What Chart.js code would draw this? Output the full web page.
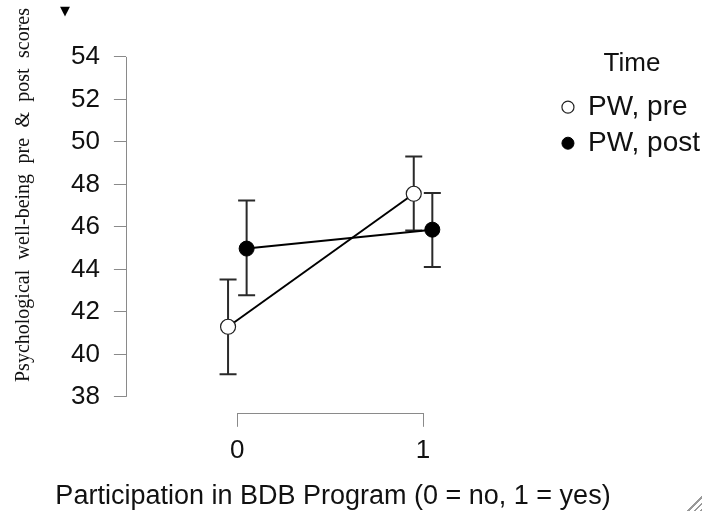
<!DOCTYPE html>
<html><head><meta charset="utf-8">
<script src="https://cdn.jsdelivr.net/npm/chart.js@4"></script>
<style>
html,body{margin:0;padding:0;background:#fff;}
#wrap{position:relative;width:720px;height:517px;}
canvas{display:block;}
#tri{position:absolute;left:60px;top:3px;font:13px 'DejaVu Sans';color:#000;}
#grip{position:absolute;left:686px;top:495px;width:16px;height:16px;background:repeating-linear-gradient(135deg,transparent 0 3px,#999 3px 4.5px);clip-path:polygon(100% 0,100% 100%,0 100%);}
</style></head>
<body><div id="wrap"><canvas id="c" width="720" height="517"></canvas><div id="tri">▼</div><div id="grip"></div></div>
<script>
const categories = [0, 1];
const seriesNames = ['PW, pre', 'PW, post'];
const preMean = [41.30, 47.56];
const preLow  = [39.06, 45.83];
const preHigh = [43.52, 49.31];
const postMean = [44.98, 45.87];
const postLow  = [42.78, 44.11];
const postHigh = [47.24, 47.60];
const yTicks = [38, 40, 42, 44, 46, 48, 50, 52, 54];
const xTitle = 'Participation in BDB Program (0 = no, 1 = yes)';
const yTitle = 'Psychological well-being pre & post scores';
const legendTitle = 'Time';

const dodge = [-0.05, 0.05];
const sans = "'Liberation Sans', Arial, sans-serif";
const axisGray = '#8a8a8a';

function pts(means, d) { return categories.map((c, i) => ({x: c + d, y: means[i]})); }

const errPlugin = {
  id: 'err',
  beforeDatasetsDraw(chart) {
    const {ctx, scales: {x, y}} = chart;
    const sets = [[preLow, preHigh, dodge[0]], [postLow, postHigh, dodge[1]]];
    ctx.save();
    ctx.strokeStyle = '#2a2a2a';
    ctx.lineWidth = 2;
    sets.forEach(([lo, hi, d]) => {
      categories.forEach((c, i) => {
        const px = x.getPixelForValue(c + d);
        const y1 = y.getPixelForValue(lo[i]);
        const y2 = y.getPixelForValue(hi[i]);
        ctx.beginPath();
        ctx.moveTo(px, y1); ctx.lineTo(px, y2);
        ctx.moveTo(px - 8.5, y1); ctx.lineTo(px + 8.5, y1);
        ctx.moveTo(px - 8.5, y2); ctx.lineTo(px + 8.5, y2);
        ctx.stroke();
      });
    });
    ctx.restore();
  },
  afterDraw(chart) {
    const {ctx, scales: {x, y}, chartArea} = chart;
    ctx.save();
    ctx.strokeStyle = axisGray;
    ctx.lineWidth = 1;
    ctx.beginPath();
    const lx = Math.round(chartArea.left) + 0.5;
    ctx.moveTo(lx, y.getPixelForValue(yTicks[0]));
    ctx.lineTo(lx, y.getPixelForValue(yTicks[yTicks.length - 1]));
    const by = Math.round(chartArea.bottom) + 0.5;
    ctx.moveTo(x.getPixelForValue(categories[0]), by);
    ctx.lineTo(x.getPixelForValue(categories[categories.length - 1]), by);
    ctx.stroke();
    // x-axis title
    ctx.fillStyle = '#111';
    ctx.font = "27px " + sans;
    ctx.textAlign = 'center';
    ctx.textBaseline = 'middle';
    ctx.fillText(xTitle, 333, 497);
    // y-axis title, words spread along the axis (as in the reference)
    ctx.font = "20px 'Liberation Serif', 'Times New Roman', serif";
    ctx.textAlign = 'left';
    ctx.textBaseline = 'alphabetic';
    const words = yTitle.split(' ');
    const widths = words.map(w => ctx.measureText(w).width);
    const span = 374, start = 382;
    const gap = (span - widths.reduce((a, b) => a + b, 0)) / (words.length - 1);
    ctx.translate(29, start);
    ctx.rotate(-Math.PI / 2);
    let pos = 0;
    words.forEach((w, i) => { ctx.fillText(w, pos, 0); pos += widths[i] + gap; });
    ctx.restore();
  }
};

new Chart(document.getElementById('c'), {
  type: 'line',
  data: {
    datasets: [
      {label: seriesNames[0], data: pts(preMean, dodge[0]), borderColor: '#000', borderWidth: 2,
       pointRadius: 7.5, pointBackgroundColor: '#fff', pointBorderColor: '#222', pointBorderWidth: 1.2},
      {label: seriesNames[1], data: pts(postMean, dodge[1]), borderColor: '#000', borderWidth: 2,
       pointRadius: 7.5, pointBackgroundColor: '#000', pointBorderColor: '#000', pointBorderWidth: 1}
    ]
  },
  options: {
    responsive: false,
    animation: false,
    layout: {padding: {top: 41, left: 57, right: 10, bottom: 43}},
    scales: {
      x: {
        type: 'linear', min: -0.6, max: 1.705,
        afterBuildTicks: s => { s.ticks = categories.map(v => ({value: v})); },
        grid: {drawOnChartArea: false, drawTicks: true, tickLength: 14, color: axisGray, lineWidth: 1},
        border: {display: false},
        ticks: {font: {family: sans, size: 26}, color: '#111', padding: 8, callback: v => String(v)}
      },
      y: {
        min: 37.25, max: 54.75,
        afterBuildTicks: s => { s.ticks = yTicks.map(v => ({value: v})); },
        grid: {drawOnChartArea: false, drawTicks: true, tickLength: 12, color: axisGray, lineWidth: 1},
        border: {display: false},
        ticks: {font: {family: sans, size: 26}, color: '#111', padding: 14, callback: v => String(v)}
      }
    },
    plugins: {
      tooltip: {enabled: false},
      legend: {
        position: 'right', align: 'start',
        title: {display: true, text: legendTitle, font: {family: sans, size: 26}, color: '#111', padding: {top: 10, bottom: 3}},
        labels: {usePointStyle: true, boxWidth: 12, boxHeight: 8.5, padding: 8, font: {family: sans, size: 28}, color: '#111'}
      }
    }
  },
  plugins: [errPlugin]
});
</script>
</body></html>
